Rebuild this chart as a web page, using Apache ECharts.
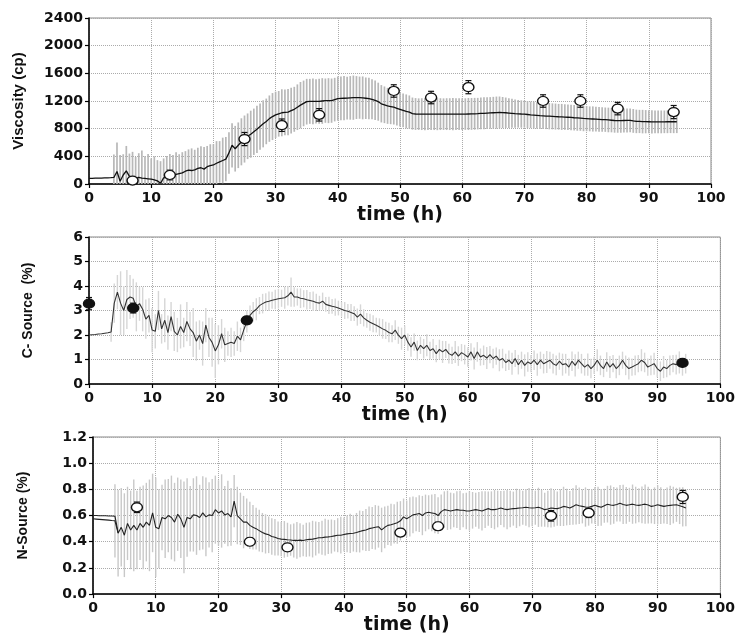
<!DOCTYPE html>
<html><head><meta charset="utf-8">
<script src="https://cdn.jsdelivr.net/npm/echarts@6/dist/echarts.min.js"></script>
<style>html,body{margin:0;padding:0;background:#fff}#c{width:738px;height:636px}</style>
</head><body><div id="c"></div>
<script>
// ---- sampling step of the logged curves (hours) ----
const STEP = 0.5;

// ---- Panel 1: Viscosity (cp) ----
const visMean = [
 80,82,84,85,86,88,90,92,95,180,
 40,130,190,110,85,90,95,85,80,75,
 70,60,45,10,90,95,105,120,140,150,
 160,185,200,195,205,225,235,215,250,265,
 275,300,320,340,360,450,560,510,560,610,
 650,690,720,755,790,830,870,905,945,975,
 1000,1015,1030,1035,1040,1060,1080,1110,1140,1165,
 1190,1195,1195,1195,1195,1200,1205,1205,1205,1220,
 1235,1238,1240,1242,1245,1248,1250,1248,1245,1240,
 1235,1225,1210,1190,1160,1145,1130,1120,1110,1095,
 1080,1065,1050,1040,1018,1012,1010,1010,1010,1010,
 1010,1010,1010,1010,1010,1010,1010,1010,1010,1010,
 1010,1011,1012,1013,1015,1017,1020,1022,1025,1028,
 1030,1032,1035,1033,1030,1026,1022,1018,1015,1012,
 1010,1005,1000,996,992,988,985,982,980,978,
 975,972,970,968,965,962,958,955,952,948,
 945,942,940,938,935,932,930,926,922,918,
 915,916,918,919,920,912,905,904,902,901,
 900,899,898,898,898,899,900,900,900,900
];
const visSpread = [
 null,null,null,null,null,null,null,null,330,420,
 380,300,360,330,380,300,350,400,320,360,
 300,340,300,320,280,310,330,300,320,280,
 300,290,300,320,290,300,310,320,300,310,
 300,320,300,330,320,300,320,330,330,340,
 340,330,340,335,340,335,340,330,335,340,
 335,330,340,330,335,330,325,330,335,330,
 330,325,330,320,325,330,320,325,320,315,
 320,315,320,310,315,320,310,305,310,300,
 300,290,285,275,270,265,260,255,250,250,
 250,245,245,240,232,230,228,230,232,230,
 228,230,232,230,228,230,230,232,228,230,
 230,228,232,230,230,228,230,232,230,228,
 230,232,230,225,220,215,210,205,200,198,
 195,195,192,195,190,192,190,188,190,188,
 188,186,188,185,186,185,184,185,183,185,
 182,180,182,178,180,178,176,178,175,176,
 174,175,172,174,170,172,170,168,170,168,
 166,168,165,166,165,164,165,164,165,164
];
const visSampleT   = [7, 13, 25, 31, 37, 49, 55, 61, 73, 79, 85, 94];
const visSampleV   = [50, 130, 650, 850, 1000, 1345, 1250, 1400, 1200, 1200, 1090, 1040];
const visSampleErr = [40, 70, 95, 90, 90, 90, 90, 95, 90, 90, 90, 95];

// ---- Panel 2: C-Source (%) ----
const cMean = [
 2.00,2.01,2.02,2.04,2.05,2.07,2.09,2.12,3.3,3.75,
 3.3,3.0,3.45,3.55,3.5,3.15,3.28,3.05,2.65,2.8,
 2.2,2.15,3.0,2.25,2.6,2.1,2.75,2.15,2.0,2.35,
 2.1,2.55,2.25,2.1,1.75,2.0,1.65,2.4,1.9,1.7,
 1.35,1.6,2.05,1.6,1.65,1.7,1.65,1.95,1.8,2.2,
 2.55,2.8,2.95,3.05,3.2,3.28,3.35,3.38,3.42,3.45,
 3.48,3.5,3.52,3.6,3.75,3.55,3.55,3.5,3.48,3.44,
 3.41,3.38,3.33,3.3,3.38,3.25,3.21,3.17,3.14,3.1,
 3.05,3.0,2.97,2.92,2.87,2.73,2.85,2.7,2.6,2.52,
 2.46,2.4,2.33,2.25,2.19,2.1,2.05,2.2,1.99,1.85,
 1.99,1.71,1.51,1.71,1.37,1.58,1.44,1.58,1.37,1.44,
 1.24,1.41,1.31,1.41,1.24,1.17,1.31,1.14,1.28,1.2,
 1.10,1.31,1.04,1.31,1.10,1.17,1.06,1.2,1.04,1.14,
 0.97,1.04,0.88,0.97,0.83,1.04,0.79,0.97,0.76,0.9,
 0.83,0.97,0.79,0.97,0.83,0.9,0.97,0.83,0.76,0.93,
 0.79,0.83,0.69,0.93,0.76,0.97,0.83,0.69,0.79,0.63,
 0.76,0.97,0.76,0.63,0.9,0.69,0.83,0.63,0.76,0.97,
 0.76,0.63,0.69,0.76,0.83,0.97,0.88,0.69,0.76,0.83,
 0.63,0.52,0.69,0.63,0.76,0.83,0.79,0.88,0.69,0.83
];
const cSpread = [
 null,null,null,null,null,null,null,0.4,0.8,0.7,
 1.3,1.0,1.2,0.9,0.8,1.0,0.7,0.9,0.8,0.7,
 0.9,0.7,0.8,0.6,0.9,0.7,0.6,0.8,0.7,0.9,
 0.6,0.8,0.7,1.0,0.8,0.6,0.9,0.7,0.8,1.0,
 1.1,0.8,0.6,0.7,0.5,0.6,0.5,0.6,0.5,0.45,
 0.45,0.4,0.4,0.45,0.35,0.4,0.35,0.4,0.35,0.4,
 0.4,0.35,0.45,0.4,0.6,0.4,0.35,0.4,0.35,0.4,
 0.35,0.4,0.35,0.3,0.35,0.3,0.35,0.3,0.35,0.3,
 0.3,0.35,0.3,0.35,0.3,0.35,0.4,0.35,0.3,0.35,
 0.35,0.3,0.35,0.4,0.35,0.4,0.35,0.4,0.35,0.45,
 0.4,0.35,0.4,0.35,0.4,0.35,0.4,0.45,0.35,0.4,
 0.35,0.4,0.45,0.35,0.4,0.35,0.45,0.4,0.35,0.4,
 0.4,0.35,0.45,0.4,0.35,0.4,0.45,0.35,0.4,0.35,
 0.45,0.4,0.35,0.4,0.45,0.35,0.4,0.35,0.45,0.4,
 0.35,0.4,0.45,0.35,0.4,0.45,0.35,0.4,0.4,0.35,
 0.45,0.4,0.35,0.4,0.45,0.35,0.4,0.35,0.45,0.4,
 0.35,0.45,0.4,0.35,0.4,0.45,0.35,0.4,0.4,0.35,
 0.4,0.45,0.35,0.4,0.35,0.45,0.4,0.35,0.4,0.45,
 0.35,0.4,0.45,0.35,0.4,0.35,0.4,0.45,0.35,0.4
];
const cSampleT   = [0, 7, 25, 94];
const cSampleV   = [3.28, 3.1, 2.6, 0.86];
const cSampleErr = [0.25, 0.2, 0.08, 0.06];

// ---- Panel 3: N-Source (%) ----
const nMean = [
 0.575,0.573,0.571,0.569,0.567,0.565,0.562,0.56,0.465,0.51,
 0.45,0.54,0.49,0.525,0.49,0.54,0.51,0.55,0.525,0.62,
 0.51,0.5,0.585,0.575,0.6,0.585,0.55,0.61,0.575,0.51,
 0.585,0.575,0.605,0.6,0.585,0.62,0.59,0.605,0.6,0.645,
 0.62,0.635,0.605,0.615,0.59,0.71,0.6,0.575,0.55,0.55,
 0.525,0.51,0.5,0.485,0.47,0.46,0.453,0.44,0.434,0.425,
 0.42,0.418,0.415,0.413,0.41,0.41,0.412,0.41,0.415,0.418,
 0.42,0.425,0.43,0.43,0.435,0.437,0.44,0.445,0.45,0.45,
 0.455,0.46,0.463,0.465,0.47,0.478,0.485,0.49,0.5,0.505,
 0.51,0.515,0.49,0.51,0.525,0.53,0.537,0.545,0.56,0.59,
 0.575,0.59,0.605,0.61,0.615,0.6,0.62,0.625,0.62,0.615,
 0.6,0.63,0.645,0.64,0.635,0.64,0.645,0.64,0.64,0.635,
 0.635,0.64,0.645,0.64,0.635,0.645,0.653,0.645,0.645,0.65,
 0.658,0.65,0.645,0.65,0.653,0.655,0.658,0.66,0.663,0.66,
 0.658,0.66,0.663,0.655,0.645,0.65,0.658,0.655,0.653,0.66,
 0.67,0.665,0.658,0.67,0.682,0.675,0.67,0.665,0.663,0.67,
 0.678,0.67,0.663,0.675,0.687,0.68,0.678,0.685,0.694,0.685,
 0.678,0.682,0.687,0.68,0.678,0.682,0.687,0.68,0.67,0.675,
 0.682,0.676,0.67,0.675,0.678,0.68,0.682,0.675,0.667,0.658
];
const nStart = [0.600,0.600,0.599,0.599,0.598,0.597,0.596,0.595,0.47];
const nSpread = [
 null,null,null,null,null,null,null,0.28,0.33,0.3,
 0.32,0.28,0.3,0.35,0.3,0.28,0.32,0.3,0.35,0.3,
 0.38,0.3,0.25,0.3,0.28,0.32,0.3,0.28,0.3,0.35,
 0.3,0.25,0.28,0.3,0.25,0.28,0.3,0.25,0.28,0.26,
 0.25,0.28,0.22,0.25,0.22,0.2,0.22,0.2,0.2,0.18,
 0.18,0.17,0.16,0.16,0.15,0.15,0.14,0.14,0.14,0.13,
 0.13,0.14,0.13,0.12,0.13,0.14,0.13,0.12,0.13,0.13,
 0.14,0.13,0.12,0.13,0.14,0.13,0.13,0.12,0.13,0.14,
 0.13,0.14,0.15,0.14,0.15,0.16,0.15,0.16,0.17,0.16,
 0.17,0.16,0.17,0.16,0.15,0.16,0.15,0.16,0.15,0.14,
 0.14,0.15,0.14,0.13,0.14,0.15,0.14,0.13,0.14,0.15,
 0.14,0.13,0.14,0.15,0.14,0.13,0.14,0.15,0.13,0.14,
 0.15,0.14,0.13,0.14,0.15,0.14,0.13,0.14,0.15,0.14,
 0.13,0.14,0.15,0.14,0.13,0.15,0.14,0.13,0.14,0.15,
 0.14,0.13,0.15,0.14,0.13,0.14,0.15,0.14,0.13,0.14,
 0.15,0.14,0.13,0.14,0.15,0.14,0.13,0.15,0.14,0.13,
 0.14,0.15,0.14,0.13,0.14,0.15,0.14,0.13,0.14,0.15,
 0.14,0.13,0.15,0.14,0.13,0.14,0.15,0.14,0.13,0.14,
 0.15,0.14,0.13,0.14,0.15,0.14,0.13,0.14,0.15,0.14
];
const nSampleT   = [7, 25, 31, 49, 55, 73, 79, 94];
const nSampleV   = [0.663, 0.40, 0.357, 0.47, 0.518, 0.598, 0.62, 0.742];
const nSampleErr = [0.04, 0.03, 0.02, 0.03, 0.03, 0.04, 0.035, 0.05];

// ---- axis ticks ----
const xTicks = {min: 0, max: 100, interval: 10};
const yTicks = [
  {min: 0, max: 2400, interval: 400, name: 'Viscosity (cp)', digits: 0},
  {min: 0, max: 6, interval: 1, name: 'C- Source  (%)', digits: 0},
  {min: 0, max: 1.2, interval: 0.2, name: 'N-Source (%)', digits: 1}
];

// ---------------- build option ----------------
const hourOf = i => i * STEP;
function pairs(arr){ return arr.map((v,i)=>[hourOf(i), v]); }
function bandData(mean, spread, floor){
  const out = [];
  mean.forEach((m,i)=>{ if(spread[i]!=null){ out.push([hourOf(i), Math.max(floor, m-spread[i]), m+spread[i]]); } });
  return out;
}
function sampleData(t,v,e){ return t.map((x,i)=>[x, v[i], v[i]-e[i], v[i]+e[i]]); }

function bandRender(color, w){
  return function(params, api){
    const x = api.value(0);
    const p1 = api.coord([x, api.value(1)]), p2 = api.coord([x, api.value(2)]);
    return {type:'line', shape:{x1:p1[0], y1:p1[1], x2:p2[0], y2:p2[1]}, style:{stroke:color, lineWidth:w}};
  };
}
function errRender(params, api){
  const x = api.value(0);
  const lo = api.coord([x, api.value(2)]), hi = api.coord([x, api.value(3)]);
  const c = 3;
  const st = {stroke:'#111', lineWidth:1.2};
  return {type:'group', children:[
    {type:'line', shape:{x1:lo[0], y1:lo[1], x2:hi[0], y2:hi[1]}, style:st},
    {type:'line', shape:{x1:lo[0]-c, y1:lo[1], x2:lo[0]+c, y2:lo[1]}, style:st},
    {type:'line', shape:{x1:hi[0]-c, y1:hi[1], x2:hi[0]+c, y2:hi[1]}, style:st}
  ]};
}

const grids = [
  {left: 89, top: 18, width: 622, height: 166},
  {left: 89, top: 237, width: 632, height: 147},
  {left: 93, top: 437, width: 633, height: 166}
].map(g => Object.assign({show:true, borderColor:'#888', borderWidth:1, backgroundColor:'transparent'}, g));

const labelFont = {fontFamily:'DejaVu Sans', fontWeight:'bold', fontSize:14, color:'#111'};
const xNameGaps = [20, 21, 12];
const yNameGaps = [63, 54, 63];
const yNameSizes = [15, 14, 14];

const xAxes = grids.map((g,i)=>({
  type:'value', gridIndex:i, min:xTicks.min, max:xTicks.max, interval:xTicks.interval,
  axisLine:{show:true, onZero:false, lineStyle:{color:'#000', width:1.5}},
  axisTick:{show:true, length:4, lineStyle:{color:'#000', width:1.2}},
  axisLabel:Object.assign({margin:7}, labelFont),
  splitLine:{show:true, lineStyle:{type:'dotted', color:'#ababab', width:1}},
  name:'time (h)', nameLocation:'middle', nameGap:xNameGaps[i],
  nameTextStyle:{fontFamily:'DejaVu Sans', fontWeight:'bold', fontSize:19, color:'#111'}
}));
const yAxes = yTicks.map((y,i)=>({
  type:'value', gridIndex:i, min:y.min, max:y.max, interval:y.interval,
  axisLine:{show:true, onZero:false, lineStyle:{color:'#000', width:1.5}},
  axisTick:{show:true, length:4, lineStyle:{color:'#000', width:1.2}},
  axisLabel:Object.assign({margin:6, formatter:v=>Number(v).toFixed(y.digits)}, labelFont),
  splitLine:{show:true, lineStyle:{type:'dotted', color:'#ababab', width:1}},
  name:y.name, nameLocation:'middle', nameGap:yNameGaps[i], nameRotate:90,
  nameTextStyle:{fontFamily:'Liberation Sans', fontWeight:'bold', fontSize:yNameSizes[i], color:'#111'}
}));

const series = [];
function addPanel(i, mean, spread, floor, bandColor, bandW, lineColor, lineW, st, sv, se, filled){
  series.push({type:'custom', xAxisIndex:i, yAxisIndex:i, renderItem:bandRender(bandColor, bandW),
    data:bandData(mean, spread, floor), encode:{x:0, y:[1,2]}, clip:true, silent:true, z:1});
  series.push({type:'line', xAxisIndex:i, yAxisIndex:i, data:pairs(mean), showSymbol:false,
    lineStyle:{color:lineColor, width:lineW}, z:3, silent:true});
  series.push({type:'custom', xAxisIndex:i, yAxisIndex:i, renderItem:errRender,
    data:sampleData(st, sv, se), encode:{x:0, y:[2,3]}, z:4, silent:true});
  series.push({type:'scatter', xAxisIndex:i, yAxisIndex:i, data:st.map((t,k)=>[t, sv[k]]),
    symbol:'circle', symbolSize:[11,9],
    itemStyle:{color: filled ? '#111' : '#fff', borderColor:'#111', borderWidth:1.3, opacity:1}, z:5, silent:true});
}
addPanel(0, visMean, visSpread, 0, '#b8b8b8', 1.7, '#111', 1.3, visSampleT, visSampleV, visSampleErr, false);
addPanel(1, cMean, cSpread, 0, '#d6d6d6', 1.4, '#333', 1.1, cSampleT, cSampleV, cSampleErr, true);
addPanel(2, nMean, nSpread, 0, '#c8c8c8', 1.4, '#222', 1.1, nSampleT, nSampleV, nSampleErr, false);
series.push({type:'line', xAxisIndex:2, yAxisIndex:2, data:pairs(nStart), showSymbol:false,
  lineStyle:{color:'#222', width:1.1}, z:3, silent:true});

const chart = echarts.init(document.getElementById('c'), null, {renderer:'canvas'});
chart.setOption({animation:false, backgroundColor:'#fff', grid:grids, xAxis:xAxes, yAxis:yAxes, series:series});
</script></body></html>
